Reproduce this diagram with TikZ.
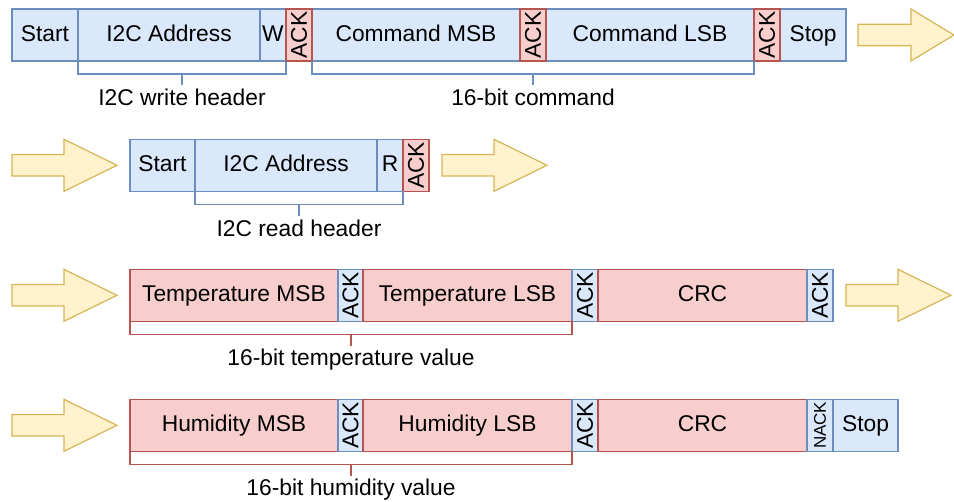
\documentclass[tikz,border=0pt]{standalone}
\usepackage{fontspec}
\setmainfont{Liberation Sans}
\usetikzlibrary{calc}
\definecolor{bfill}{HTML}{DAE8FC}
\definecolor{bline}{HTML}{6C8EBF}
\definecolor{rfill}{HTML}{F8CECC}
\definecolor{rline}{HTML}{B85450}
\definecolor{afill}{HTML}{FFF2CC}
\definecolor{aline}{HTML}{D6B656}
\newcommand{\dfont}{\fontsize{22.8}{27}\selectfont}
\newcommand{\sfont}{\fontsize{17}{20}\selectfont}
\tikzset{
  blk/.style={minimum height=52pt, inner sep=0pt, outer sep=0pt, line width=1.2pt, anchor=north west, font=\dfont},
  bb/.style={blk, draw=bline, fill=bfill},
  rb/.style={blk, draw=rline, fill=rfill},
  ht/.style={text height=16pt, text depth=3pt},
  bbr/.style={draw=bline, line width=1.2pt},
  rbr/.style={draw=rline, line width=1.2pt},
  lbl/.style={inner sep=0pt, font=\dfont, anchor=base},
  fatarrow/.style={draw=aline, fill=afill, line width=1.2pt, line join=miter},
  pics/fatarr/.style={code={\draw[fatarrow] (0,-10.8) -- (52,-10.8) -- (52,-26) -- (105,0) -- (52,26) -- (52,10.8) -- (0,10.8) -- cycle;}}
}
\begin{document}
\begin{tikzpicture}[x=1pt,y=-1pt]
\useasboundingbox (0,0) rectangle (954,502);

% ---------- Row 1: write header + command ----------
\node[bb,ht,minimum width=66pt]  (s1) at (12,9)  {Start};
\node[bb,ht,minimum width=182pt] (a1) at (78,9)  {I2C Address};
\node[bb,ht,minimum width=26pt]  (w1) at (260,9) {W};
\node[bb,ht,minimum width=208pt] (cm) at (312,9) {Command MSB};
\node[bb,ht,minimum width=208pt] (cl) at (546,9) {Command LSB};
\node[bb,ht,minimum width=66pt]  (p1) at (780,9) {Stop};
\node[rb,minimum width=26pt] (k1) at (286,9) {\rotatebox{90}{ACK}};
\node[rb,minimum width=26pt] (k2) at (520,9) {\rotatebox{90}{ACK}};
\node[rb,minimum width=26pt] (k3) at (754,9) {\rotatebox{90}{ACK}};
\draw[fatarrow] (858,24.2) -- (911,24.2) -- (911,9) -- (954,35) -- (911,61) -- (911,45.8) -- (858,45.8) -- cycle;

\draw[bbr] (a1.south west) -- ++(0,13) coordinate (b1l) -| (k1.south west);
\draw[bbr] ($(b1l)!0.5!(k1.south west |- b1l)$) -- ++(0,11) coordinate (b1t);
\node[lbl] (l1) at ($(b1t)+(0,21)$) {I2C write header};
\draw[bbr] (cm.south west) -- ++(0,13) coordinate (b2l) -| (k3.south west);
\draw[bbr] ($(b2l)!0.5!(k3.south west |- b2l)$) -- ++(0,11) coordinate (b2t);
\node[lbl] (l2) at ($(b2t)+(0,21)$) {16-bit command};

% ---------- Row 2: read header ----------
\pic at (12,165.3) {fatarr};
\node[bb,ht,minimum width=65pt]  (s2) at (130,139.3) {Start};
\node[bb,ht,minimum width=182pt] (a2) at (195,139.3) {I2C Address};
\node[bb,ht,minimum width=26pt]  (r2) at (377,139.3) {R};
\node[rb,minimum width=26pt]     (k4) at (403,139.3) {\rotatebox{90}{ACK}};
\pic at (442,165.3) {fatarr};

\draw[bbr] (a2.south west) -- ++(0,13) coordinate (b3l) -| (k4.south west);
\draw[bbr] ($(b3l)!0.5!(k4.south west |- b3l)$) -- ++(0,12) coordinate (b3t);
\node[lbl] (l3) at ($(b3t)+(0,20)$) {I2C read header};

% ---------- Row 3: temperature ----------
\pic at (12,295.3) {fatarr};
\node[rb,ht,minimum width=208pt] (t1) at (130,269.3) {Temperature MSB};
\node[bb,minimum width=25pt]     (k5) at (338,269.3) {\rotatebox{90}{ACK}};
\node[rb,ht,minimum width=209pt] (t2) at (363,269.3) {Temperature LSB};
\node[bb,minimum width=26pt]     (k6) at (572,269.3) {\rotatebox{90}{ACK}};
\node[rb,ht,minimum width=209pt] (c1) at (598,269.3) {CRC};
\node[bb,minimum width=26pt]     (k7) at (807,269.3) {\rotatebox{90}{ACK}};
\pic at (846,295.3) {fatarr};

\draw[rbr] (t1.south west) -- ++(0,13) coordinate (b4l) -| (k6.south west);
\draw[rbr] ($(b4l)!0.5!(k6.south west |- b4l)$) -- ++(0,12) coordinate (b4t);
\node[lbl] (l4) at ($(b4t)+(0,19)$) {16-bit temperature value};

% ---------- Row 4: humidity ----------
\pic at (12,425.3) {fatarr};
\node[rb,ht,minimum width=208pt] (h1) at (130,399.3) {Humidity MSB};
\node[bb,minimum width=25pt]     (k8) at (338,399.3) {\rotatebox{90}{ACK}};
\node[rb,ht,minimum width=209pt] (h2) at (363,399.3) {Humidity LSB};
\node[bb,minimum width=26pt]     (k9) at (572,399.3) {\rotatebox{90}{ACK}};
\node[rb,ht,minimum width=209pt] (c2) at (598,399.3) {CRC};
\node[bb,minimum width=26pt]     (n1) at (807,399.3) {\rotatebox{90}{\sfont NACK}};
\node[bb,ht,minimum width=65pt]  (p2) at (833,399.3) {Stop};

\draw[rbr] (h1.south west) -- ++(0,13) coordinate (b5l) -| (k9.south west);
\draw[rbr] ($(b5l)!0.5!(k9.south west |- b5l)$) -- ++(0,12) coordinate (b5t);
\node[lbl] (l5) at ($(b5t)+(0,19)$) {16-bit humidity value};
\end{tikzpicture}
\end{document}
